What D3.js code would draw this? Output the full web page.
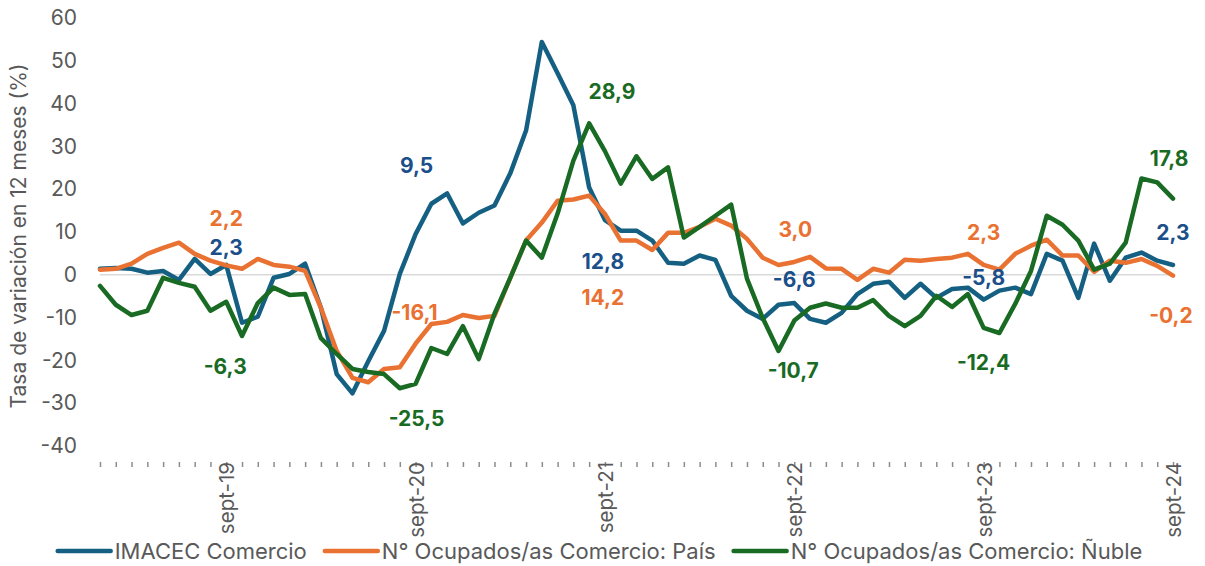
<!DOCTYPE html>
<html>
<head>
<meta charset="utf-8">
<script src="https://cdn.jsdelivr.net/npm/d3@7"></script>
<style>
  body { margin: 0; background: #fff; }
  svg text { font-family: Inter, "Noto Sans", sans-serif; }
</style>
</head>
<body>
<div id="chart"></div>
<script>
// Months: ene-2019 .. sept-2024
const monthNames = ["ene", "feb", "mar", "abr", "may", "jun", "jul", "ago", "sept", "oct", "nov", "dic"];
const months = d3.timeMonths(new Date(2019, 0, 1), new Date(2024, 9, 1))
  .map(d => `${monthNames[d.getMonth()]}-${String(d.getFullYear()).slice(2)}`);

const imacec = [1.4, 1.6, 1.4, 0.5, 0.9, -1.2, 3.7, 0.2, 2.3, -11.2, -9.8, -0.7, 0.2, 2.6, -7.7, -23.2, -27.7, -20.2, -13.1, 0.2,
  9.5, 16.6, 19.0, 12.0, 14.5, 16.2, 23.7, 33.7, 54.4, 47.1, 39.6, 20.4, 12.8, 10.3, 10.3, 8.0, 2.8, 2.6, 4.5, 3.5,
  -4.9, -8.4, -10.3, -7.0, -6.6, -10.3, -11.2, -8.9, -4.5, -2.1, -1.6, -5.4, -2.1, -5.4, -3.3, -3.0, -5.8, -3.7, -3.0, -4.5,
  4.9, 3.3, -5.4, 7.3, -1.4, 4.0, 5.2, 3.3, 2.3];

const ocupPais = [1.2, 1.4, 2.6, 4.9, 6.3, 7.5, 4.9, 3.3, 2.2, 1.4, 3.7, 2.3, 1.9, 0.9, -7.7, -17.8, -24.1, -25.1, -22.0, -21.6,
  -16.1, -11.5, -11.0, -9.4, -10.1, -9.6, -0.7, 8.0, 12.2, 17.3, 17.6, 18.5, 14.2, 8.0, 8.0, 5.8, 9.8, 9.8, 11.2, 13.1,
  11.5, 8.4, 4.0, 2.3, 3.0, 4.2, 1.5, 1.4, -1.2, 1.4, 0.5, 3.5, 3.3, 3.7, 4.0, 4.9, 2.3, 1.2, 4.9, 6.8,
  8.2, 4.5, 4.5, 0.7, 3.3, 2.8, 3.7, 2.1, -0.2];

const ocupNuble = [-2.6, -7.0, -9.4, -8.4, -0.7, -1.9, -2.8, -8.4, -6.3, -14.3, -6.6, -3.0, -4.7, -4.5, -14.8, -18.5, -22.0, -22.7, -23.2, -26.5,
  -25.5, -17.1, -18.5, -12.0, -19.7, -9.1, -0.7, 8.0, 4.0, 14.3, 26.7, 35.4, 28.9, 21.3, 27.7, 22.4, 25.1, 8.7, 11.2, 13.8,
  16.4, -0.9, -10.1, -17.8, -10.7, -7.7, -6.7, -7.7, -7.7, -5.9, -9.6, -12.0, -9.6, -4.9, -7.5, -4.5, -12.4, -13.6, -6.8, 0.9,
  13.8, 11.7, 8.0, 1.2, 2.6, 7.5, 22.5, 21.6, 17.8];

const seriesNames = ["IMACEC Comercio", "N° Ocupados/as Comercio: País", "N° Ocupados/as Comercio: Ñuble"];
const yTicks = [-40, -30, -20, -10, 0, 10, 20, 30, 40, 50, 60];
// data labels shown at each september
const labelMonths = ["sept-19", "sept-20", "sept-21", "sept-22", "sept-23", "sept-24"];

const lineColors = ["#156082", "#E97132", "#196B24"];
const labelColors = ["#1B4F8A", "#E97132", "#196B24"];
// label offsets in px from the point [dx, dy], one row per series
const labelOffsets = [
  [[0, -17], [1, -69], [-2, 41], [0, -24], [0, -22], [0, -32]],
  [[0, -47], [-1, -31], [-2, 83], [1, -32], [0, -32], [-2, 40]],
  [[-1, 65], [1, 35], [7, -60], [-1, 50], [0, 35], [-4, -40]]
];

const W = 1205, H = 566;
const svg = d3.select("#chart").append("svg")
  .attr("width", W).attr("height", H);

const x = d3.scalePoint().domain(months).range([100, 1173]);
const y = d3.scaleLinear().domain([-40, 60]).range([446, 18]);

const grey = "#595959";
const locale = d3.formatLocale({ decimal: ",", thousands: ".", grouping: [3], currency: ["$", ""], minus: "-" });

// zero line
svg.append("line")
  .attr("x1", x.range()[0]).attr("x2", x.range()[1])
  .attr("y1", y(0)).attr("y2", y(0))
  .attr("stroke", "#d9d9d9").attr("stroke-width", 1.5);

// y axis
const yAxis = svg.append("g")
  .attr("transform", "translate(100,0)")
  .call(d3.axisLeft(y).tickValues(yTicks).tickSize(0).tickPadding(23).tickFormat(locale.format("d")));
yAxis.select(".domain").remove();
yAxis.selectAll("text").attr("fill", grey).style("font-size", "21px");

svg.append("text")
  .attr("transform", "translate(18,236) rotate(-90)")
  .attr("text-anchor", "middle")
  .attr("dominant-baseline", "central")
  .attr("fill", grey)
  .style("font-size", "21px")
  .text("Tasa de variación en 12 meses (%)");

// x axis: a tick every month, labels only on september
const xAxis = svg.append("g")
  .attr("transform", "translate(0,462)")
  .call(d3.axisBottom(x).tickSize(5).tickFormat(d => d.startsWith("sept") ? d : ""));
xAxis.select(".domain").remove();
xAxis.selectAll(".tick line").attr("stroke", "#8c8c8c").attr("stroke-width", 1.5);
xAxis.selectAll(".tick text")
  .attr("transform", "rotate(-90)")
  .attr("x", 0).attr("y", 0).attr("dy", null)
  .attr("text-anchor", "end")
  .attr("dominant-baseline", "central")
  .attr("fill", grey)
  .style("font-size", "20.5px");

// lines
const allSeries = [imacec, ocupPais, ocupNuble];
const line = d3.line()
  .x((d, i) => x(months[i]))
  .y(d => y(d));

svg.selectAll(".series")
  .data(allSeries)
  .join("path")
  .attr("class", "series")
  .attr("d", line)
  .attr("fill", "none")
  .attr("stroke", (d, i) => lineColors[i])
  .attr("stroke-width", 4.5)
  .attr("stroke-linejoin", "round")
  .attr("stroke-linecap", "round");

// data labels
const fmt = locale.format(".1f");
const labels = allSeries.flatMap((s, si) => labelMonths.map((m, li) => {
  const idx = months.indexOf(m);
  return { si, x: x(m) + labelOffsets[si][li][0], y: y(s[idx]) + labelOffsets[si][li][1], v: s[idx] };
}));
svg.selectAll(".dlabel")
  .data(labels)
  .join("text")
  .attr("class", "dlabel")
  .attr("x", d => d.x)
  .attr("y", d => d.y)
  .attr("text-anchor", "middle")
  .attr("dominant-baseline", "central")
  .attr("fill", d => labelColors[d.si])
  .style("font-size", "21px")
  .style("font-weight", "bold")
  .text(d => fmt(d.v));

// legend
const legend = svg.append("g").attr("transform", "translate(0,551)");
const items = legend.selectAll("g")
  .data(seriesNames)
  .join("g");
items.append("line")
  .attr("x1", 0).attr("x2", 53)
  .attr("stroke", (d, i) => lineColors[i])
  .attr("stroke-width", 4.5)
  .attr("stroke-linecap", "round");
items.append("text")
  .attr("x", 57)
  .attr("dominant-baseline", "central")
  .attr("fill", grey)
  .style("font-size", "22px")
  .text(d => d);

let widths = [];
items.each(function () { widths.push(this.getBBox().width); });
const gap = 18;
const total = d3.sum(widths) + gap * (widths.length - 1);
let cx = 600 - total / 2;
items.attr("transform", (d, i) => {
  const t = `translate(${cx},0)`;
  cx += widths[i] + gap;
  return t;
});
</script>
</body>
</html>
